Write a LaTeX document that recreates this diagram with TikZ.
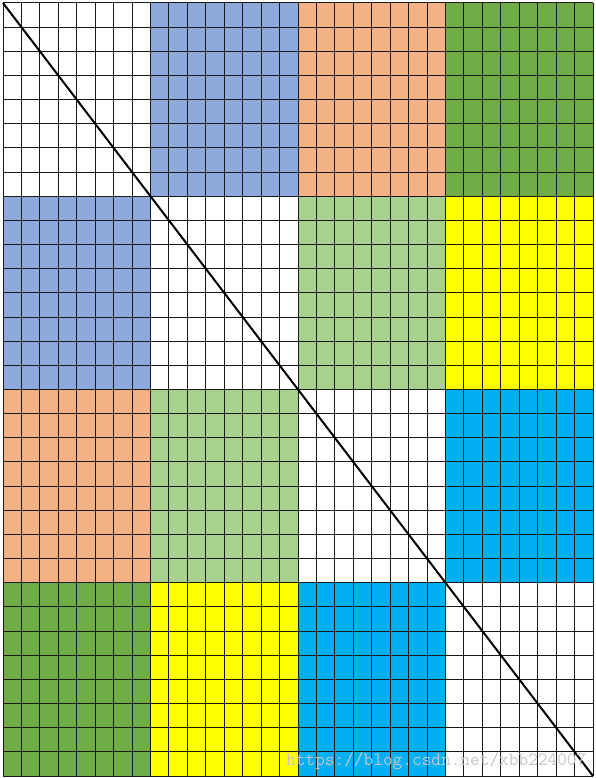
\documentclass[tikz,border=0pt]{standalone}
\usepackage{fontspec}
\definecolor{cblue}{HTML}{8EA9DB}
\definecolor{corange}{HTML}{F4B183}
\definecolor{cdgreen}{HTML}{70AD47}
\definecolor{clgreen}{HTML}{A9D18E}
\definecolor{cyellow}{HTML}{FFFF00}
\definecolor{ccyan}{HTML}{00B0F0}
\tikzset{
  gridline/.style={draw=black!90, line width=1pt},
  diagline/.style={draw=black, line width=2pt},
  watermark/.style={font=\ttfamily\fontsize{18.8}{20}\selectfont, text=black!22, inner sep=0pt}
}
\begin{document}
\begin{tikzpicture}[x=1pt,y=-1pt]
\useasboundingbox (0,0) rectangle (595,778);
\pgfmathsetmacro{\ox}{3}
\pgfmathsetmacro{\oy}{3}
\pgfmathsetmacro{\bw}{590/4}
\pgfmathsetmacro{\bh}{773/4}
\pgfmathsetmacro{\cw}{590/32}
\pgfmathsetmacro{\ch}{773/32}
\fill[white] (0,0) rectangle (595,778);
\foreach \c/\r/\col in {
  1/0/cblue, 2/0/corange, 3/0/cdgreen,
  0/1/cblue, 2/1/clgreen, 3/1/cyellow,
  0/2/corange, 1/2/clgreen, 3/2/ccyan,
  0/3/cdgreen, 1/3/cyellow, 2/3/ccyan} {
  \fill[\col] ({\ox+\c*\bw},{\oy+\r*\bh}) rectangle ({\ox+(\c+1)*\bw},{\oy+(\r+1)*\bh});
}
\foreach \i in {0,...,32} {
  \draw[gridline] ({\ox+\i*\cw},\oy) -- ({\ox+\i*\cw},{\oy+773});
  \draw[gridline] (\ox,{\oy+\i*\ch}) -- ({\ox+590},{\oy+\i*\ch});
}
\coordinate (tl) at (3,3);
\coordinate (br) at (593,776);
\draw[diagline] (tl) -- (br);
\node[watermark, anchor=base west] (wm) at (286,765) {https://blog.csdn.net/xbb224007};
\end{tikzpicture}
\end{document}
